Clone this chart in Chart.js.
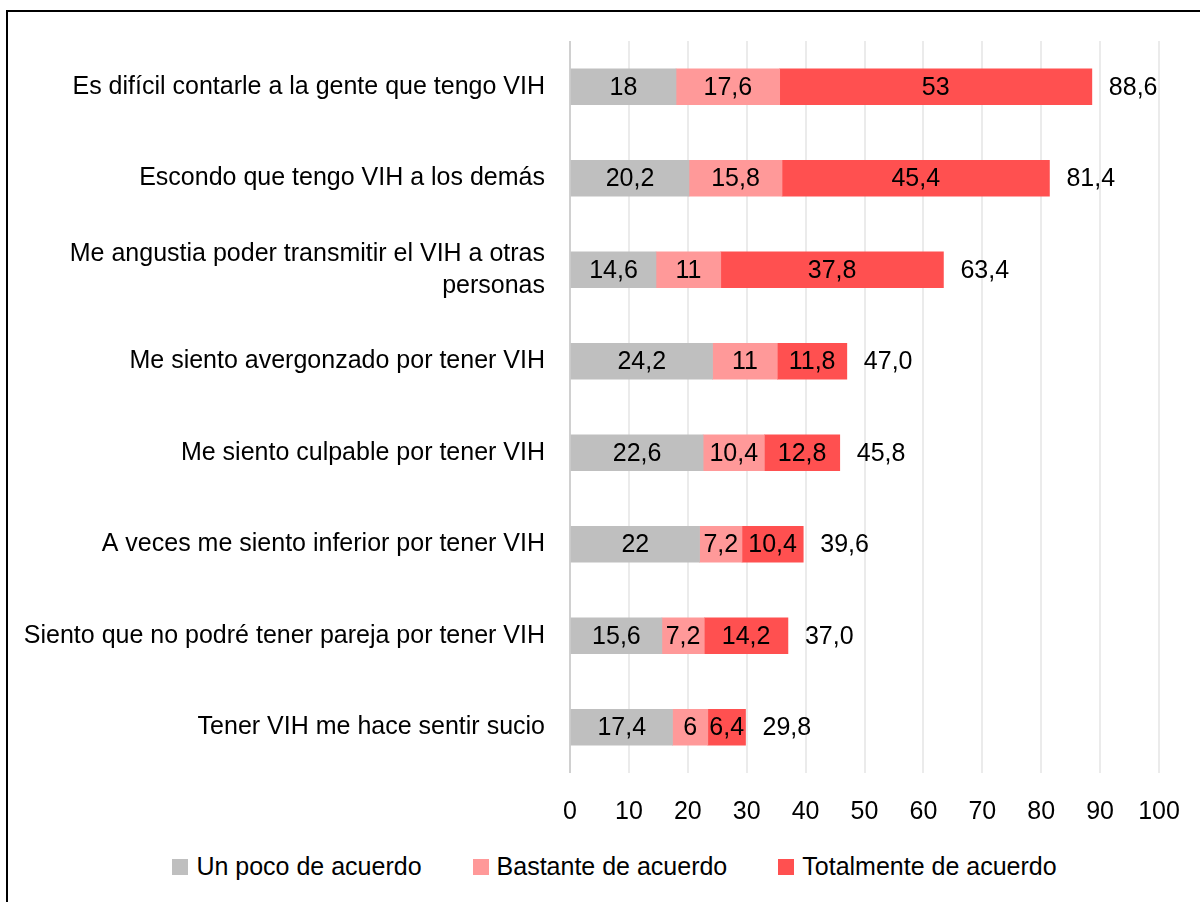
<!DOCTYPE html>
<html>
<head>
<meta charset="utf-8">
<script src="https://cdn.jsdelivr.net/npm/chart.js@4.4.1/dist/chart.umd.min.js"></script>
<style>
  html, body { margin: 0; padding: 0; background: #fff; overflow: hidden; width: 1200px; height: 902px; }
  #wrap { position: absolute; left: 0; top: 0; width: 1200px; height: 845px; }
  #frame { position: absolute; left: 6px; top: 10px; width: 1250px; height: 950px; border: 2px solid #000; pointer-events: none; }
  #legend { position: absolute; left: 29px; right: 0; top: 851px; height: 30px; display: flex; justify-content: center; gap: 51px;
            font: 25px 'Liberation Sans', Arial, sans-serif; color: #000; line-height: 30px; }
  #legend .item { display: flex; align-items: center; white-space: nowrap; }
  #legend .box { width: 16px; height: 16px; margin-right: 8px; margin-top: 2px; }
</style>
</head>
<body>
<div id="wrap"><canvas id="chart" width="1200" height="845"></canvas></div>
<div id="legend"></div>
<div id="frame"></div>
<script>
// Categories (top to bottom)
const categories = [
    'Es difícil contarle a la gente que tengo VIH',
    'Escondo que tengo VIH a los demás',
    ['Me angustia poder transmitir el VIH a otras', 'personas'],
    'Me siento avergonzado por tener VIH',
    'Me siento culpable por tener VIH',
    'A veces me siento inferior por tener VIH',
    'Siento que no podré tener pareja por tener VIH',
    'Tener VIH me hace sentir sucio'
];

// Series values
const unPoco = [18, 20.2, 14.6, 24.2, 22.6, 22, 15.6, 17.4];
const bastante = [17.6, 15.8, 11, 11, 10.4, 7.2, 7.2, 6];
const totalmente = [53, 45.4, 37.8, 11.8, 12.8, 10.4, 14.2, 6.4];

const xTicks = [0, 10, 20, 30, 40, 50, 60, 70, 80, 90, 100];

const FONT = "'Liberation Sans', Arial, sans-serif";
const FS = 25;

const fmt = v => String(v).replace('.', ',');

// draws the values inside each segment and the totals at the end of each bar
const barLabels = {
    id: 'barLabels',
    afterDatasetsDraw(chart) {
        const ctx = chart.ctx;
        ctx.save();
        ctx.font = FS + 'px ' + FONT;
        ctx.fillStyle = '#000';
        ctx.textBaseline = 'middle';
        ctx.textAlign = 'center';
        chart.data.datasets.forEach((ds, i) => {
            const meta = chart.getDatasetMeta(i);
            meta.data.forEach((bar, j) => {
                ctx.fillText(fmt(ds.data[j]), (bar.x + bar.base) / 2, bar.y + 1);
            });
        });
        // totals
        const xScale = chart.scales.x;
        const meta0 = chart.getDatasetMeta(0);
        ctx.textAlign = 'left';
        categories.forEach((c, j) => {
            const total = unPoco[j] + bastante[j] + totalmente[j];
            const x = xScale.getPixelForValue(total) + 17;
            ctx.fillText(total.toFixed(1).replace('.', ','), x, meta0.data[j].y + 1);
        });
        ctx.restore();
    }
};

// html legend built from the chart's own legend items
const htmlLegend = {
    id: 'htmlLegend',
    afterUpdate(chart) {
        const box = document.getElementById('legend');
        box.innerHTML = '';
        const items = chart.options.plugins.legend.labels.generateLabels(chart);
        items.forEach(item => {
            const el = document.createElement('div');
            el.className = 'item';
            const sw = document.createElement('span');
            sw.className = 'box';
            sw.style.background = item.fillStyle;
            el.appendChild(sw);
            el.appendChild(document.createTextNode(item.text));
            box.appendChild(el);
        });
    }
};

const ctx = document.getElementById('chart').getContext('2d');

new Chart(ctx, {
    type: 'bar',
    data: {
        labels: categories,
        datasets: [
            { label: 'Un poco de acuerdo', data: unPoco, backgroundColor: '#BFBFBF' },
            { label: 'Bastante de acuerdo', data: bastante, backgroundColor: '#FF9999' },
            { label: 'Totalmente de acuerdo', data: totalmente, backgroundColor: '#FF5050' }
        ]
    },
    options: {
        indexAxis: 'y',
        responsive: false,
        animation: false,
        devicePixelRatio: 1,
        layout: {
            padding: { top: 41, right: 41, left: 20, bottom: 12 }
        },
        datasets: {
            bar: { barThickness: 36, borderWidth: 0 }
        },
        plugins: {
            legend: { display: false },
            tooltip: { enabled: false }
        },
        scales: {
            x: {
                stacked: true,
                min: 0,
                max: 100,
                afterBuildTicks: scale => { scale.ticks = xTicks.map(v => ({ value: v })); },
                afterFit: scale => {
                    scale.height = 60;
                    scale.paddingRight = 0;
                    scale.paddingLeft = 0;
                },
                ticks: {
                    color: '#000',
                    font: { family: FONT, size: FS },
                    padding: 24
                },
                grid: {
                    color: ctx => ctx.tick.value === 0 ? '#D0D0D0' : '#EBEBEB',
                    lineWidth: 2,
                    drawTicks: false
                },
                border: { display: false }
            },
            y: {
                stacked: true,
                afterFit: scale => { scale.width = 550; },
                ticks: {
                    color: '#000',
                    font: { family: FONT, size: FS, lineHeight: 1.28 },
                    padding: 25,
                    autoSkip: false
                },
                grid: { display: false, drawTicks: false },
                border: { display: false }
            }
        }
    },
    plugins: [barLabels, htmlLegend]
});
</script>
</body>
</html>
